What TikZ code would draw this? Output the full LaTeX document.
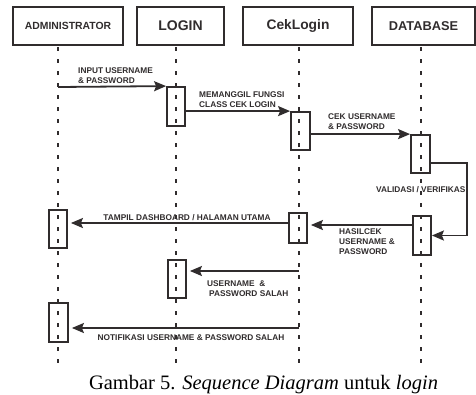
\documentclass[tikz,border=0pt]{standalone}
\usepackage{fontspec}
\setmainfont{Liberation Serif}
\setsansfont{Liberation Sans}
\usetikzlibrary{arrows.meta}
\definecolor{ink}{RGB}{48,44,45}

\begin{document}
\begin{tikzpicture}[x=1pt,y=-1pt,
  head/.style={draw=ink, line width=1.8pt, minimum height=38pt, inner sep=0pt,
               text=ink, font=\sffamily\bfseries},
  act/.style={draw=ink, line width=1.8pt, minimum width=18pt, inner sep=0pt},
  life/.style={draw=ink, line width=1.5pt, dash pattern=on 3.5pt off 8.5pt},
  msg/.style={draw=ink, line width=1.8pt, -{Stealth[length=12pt,width=10pt,inset=2pt]}},
  back/.style={msg, shorten >=3pt},
  lbl/.style={font=\sffamily\bfseries\fontsize{8.3}{10}\selectfont, text=ink,
              inner sep=0pt, align=left}
]
\useasboundingbox (0,0) rectangle (476,394);

% object headers
\node[head, minimum width=110pt, font=\sffamily\bfseries\fontsize{10.4}{12}\selectfont] (admin) at (68,26) {ADMINISTRATOR};
\node[head, minimum width=87pt, font=\sffamily\bfseries\fontsize{14}{16}\selectfont] (login) at (180.5,26) {LOGIN};
\node[head, minimum width=110pt, font=\sffamily\bfseries\fontsize{13.8}{16}\selectfont] (cek) at (298,26) {CekLogin};
\node[head, minimum width=103pt, font=\sffamily\bfseries\fontsize{12.8}{15}\selectfont] (db) at (423.5,26) {DATABASE};

% lifelines
\coordinate (admT) at (58,47);  \coordinate (admB) at (58,370);
\coordinate (logT) at (176,47); \coordinate (logB) at (176,370);
\coordinate (cekT) at (299,47); \coordinate (cekB) at (299,370);
\coordinate (dbT)  at (421,47); \coordinate (dbB)  at (421,370);

% activation bars
\node[act, minimum height=39pt] (L1) at (176,106.5) {};
\node[act, minimum height=38pt, minimum width=19pt] (C1) at (300.5,131) {};
\node[act, minimum height=38pt, minimum width=19pt] (D1) at (420.5,154) {};
\node[act, minimum height=39pt] (D2) at (422,235.5) {};
\node[act, minimum height=30pt] (C2) at (298,228) {};
\node[act, minimum height=38pt] (A1) at (58,229) {};
\node[act, minimum height=38pt] (L2) at (177,279) {};
\node[act, minimum height=39pt, minimum width=19pt] (A2) at (58.5,322.5) {};

\draw[life] (admT) -- (admB);
\draw[life] (logT) -- (logB);
\draw[life] (cekT) -- (cekB);
\draw[life] (dbT) -- (dbB);

% message heights
\coordinate (y1) at (0,87);
\coordinate (y5) at (0,225);
\coordinate (y6) at (0,223);
\coordinate (y7) at (0,271);
\coordinate (y8) at (0,328);

% messages
\draw[msg] (admT |- y1) -- (L1.north west);
\draw[msg] (L1.east |- C1.north) -- (C1.north west);
\draw[msg] (C1.east |- D1.north) -- (D1.north west);
\draw[msg] ([yshift=-9pt]D1.east) -- ++(36,0) coordinate (loopR) |- (D2.east);
\draw[back] (D2.west |- y5) -- (C2.east |- y5);
\draw[back] (C2.west |- y6) -- (A1.east |- y6);
\draw[back] (cekT |- y7) -- (L2.east |- y7);
\draw[back] (cekT |- y8) -- (A2.east |- y8);

% message labels
\node[lbl, anchor=north west] (t1) at (78,67.5) {INPUT USERNAME\\\& PASSWORD};
\node[lbl, anchor=north west] (t2) at (199,91.5) {MEMANGGIL FUNGSI\\CLASS CEK LOGIN};
\node[lbl, anchor=north west] (t3) at (328,114) {CEK USERNAME\\\& PASSWORD};
\node[lbl, anchor=west] (t4) at (376,190) {VALIDASI / VERIFIKASI};
\node[lbl, anchor=north west] (t5) at (339,228.5) {HASILCEK\\USERNAME \&\\PASSWORD};
\node[lbl] (t6) at (187,218) {TAMPIL DASHBOARD / HALAMAN UTAMA};
\node[lbl, anchor=north west] (t7) at (207,280.5) {USERNAME\ \ \&\\\hspace*{2pt}PASSWORD SALAH};
\node[lbl] (t8) at (191,338) {NOTIFIKASI USERNAME \& PASSWORD SALAH};

% caption
\node[anchor=base, inner sep=0pt, font=\fontsize{20.5}{24}\selectfont, text=black] (cap) at (263.5,389)
  {Gambar 5. \textit{Sequence Diagram} untuk \textit{login}};
\end{tikzpicture}
\end{document}
